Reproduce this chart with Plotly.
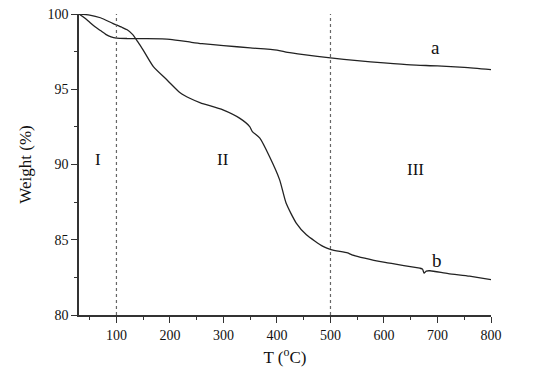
import plotly.graph_objects as go

# Curve a
temp_a = [30, 40, 50, 60, 70, 80, 90, 100, 120, 150, 200, 240, 260, 300, 350, 400, 420, 450, 500, 550, 600, 650, 700, 750, 800]
weight_a = [100, 99.75, 99.45, 99.15, 98.9, 98.65, 98.48, 98.4, 98.37, 98.36, 98.32, 98.12, 98.03, 97.9, 97.75, 97.6, 97.45, 97.3, 97.08, 96.9, 96.75, 96.62, 96.55, 96.45, 96.3]

# Curve b
temp_b = [30, 50, 70, 93, 110, 120, 130, 140, 150, 169, 195, 219, 237, 257, 299, 330, 349, 354, 368, 386, 405, 417, 436, 455, 486, 501, 532, 540, 602, 667, 672, 675, 679, 686, 720, 760, 800]
weight_b = [100, 99.93, 99.75, 99.38, 99.12, 98.95, 98.65, 98.15, 97.6, 96.5, 95.6, 94.77, 94.4, 94.1, 93.63, 93.08, 92.52, 92.19, 91.75, 90.53, 88.98, 87.44, 86.11, 85.33, 84.56, 84.34, 84.12, 84.0, 83.49, 83.11, 83.05, 82.78, 82.92, 82.94, 82.75, 82.58, 82.35]

x_ticks = [100, 200, 300, 400, 500, 600, 700, 800]
y_ticks = [80, 85, 90, 95, 100]
region_x = [100, 500]
region_labels = ["I", "II", "III"]
region_label_x = [65, 299, 658]
region_label_y = [90.3, 90.3, 89.65]
curve_labels = ["a", "b"]
curve_label_x = [696, 700]
curve_label_y = [97.75, 83.65]

font = "Liberation Serif"

fig = go.Figure()
fig.add_trace(go.Scatter(x=temp_a, y=weight_a, mode="lines",
                         line=dict(color="#222222", width=1.3, shape="spline", smoothing=0.6),
                         showlegend=False))
fig.add_trace(go.Scatter(x=temp_b, y=weight_b, mode="lines",
                         line=dict(color="#222222", width=1.3, shape="spline", smoothing=0.6),
                         showlegend=False))

for xv in region_x:
    fig.add_shape(type="line", x0=xv, x1=xv, y0=80, y1=100, xref="x", yref="y",
                  line=dict(color="#666666", width=1.2, dash="dot"))

for t, xv, yv in zip(region_labels, region_label_x, region_label_y):
    fig.add_annotation(x=xv, y=yv, text=t, showarrow=False,
                       font=dict(family=font, size=17, color="#111111"))
for t, xv, yv in zip(curve_labels, curve_label_x, curve_label_y):
    fig.add_annotation(x=xv, y=yv, text=t, showarrow=False,
                       font=dict(family=font, size=19, color="#111111"))

fig.update_layout(
    width=539, height=371,
    margin=dict(l=71, r=56, t=6, b=64, autoexpand=False),
    plot_bgcolor="white", paper_bgcolor="white",
    font=dict(family=font, size=14, color="#111111"),
    xaxis=dict(range=[30, 800], tickvals=x_ticks, ticks="outside", ticklen=6,
               tickwidth=1.3, tickcolor="#333333", automargin=False,
               ticklabeloverflow="allow",
               showline=True, linecolor="#333333", linewidth=1.5,
               showgrid=False, zeroline=False,
               minor=dict(dtick=50, tick0=0, ticks="outside", ticklen=3, tickcolor="#333333", showgrid=False),
               title=dict(text="T (<sup>o</sup>C)", font=dict(family=font, size=17), standoff=10),
               tickfont=dict(family=font, size=14)),
    yaxis=dict(range=[80, 100], tickvals=y_ticks, ticks="outside", ticklen=6,
               tickwidth=1.3, tickcolor="#333333", automargin=False,
               ticklabeloverflow="allow",
               showline=True, linecolor="#333333", linewidth=1.5,
               showgrid=False, zeroline=False,
               minor=dict(dtick=2.5, tick0=80, ticks="outside", ticklen=3, tickcolor="#333333", showgrid=False),
               title=dict(text="Weight (%)", font=dict(family=font, size=17), standoff=12),
               tickfont=dict(family=font, size=14)),
)

fig.write_html("out.html")
